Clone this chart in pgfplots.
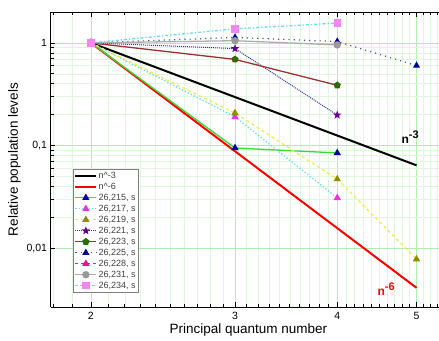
\documentclass[border=0pt]{standalone}
\usepackage{fontspec}
\setmainfont{Liberation Sans}
\usepackage{pgfplots}
\pgfplotsset{compat=1.18}
\usetikzlibrary{plotmarks}
\definecolor{cgreen}{HTML}{33DD33}
\definecolor{ccyan}{HTML}{66DDEE}
\definecolor{cyellow}{HTML}{EEEE44}
\definecolor{colive}{HTML}{8C8C00}
\definecolor{cnavy}{HTML}{333399}
\definecolor{cpurple}{HTML}{660099}
\definecolor{cmaroon}{HTML}{993333}
\definecolor{cdgreen}{HTML}{2E6B00}
\definecolor{cblue}{HTML}{0000A0}
\definecolor{cmag}{HTML}{F030D8}
\definecolor{cpink}{HTML}{EE1199}
\definecolor{cviolet}{HTML}{9933CC}
\definecolor{cgray}{HTML}{999999}
\definecolor{csq}{HTML}{EE88EE}
\definecolor{majgrid}{HTML}{B0EEB0}
\definecolor{mingrid}{HTML}{E0F6E0}
\pgfdeclareplotmark{fstar}{%
  \pgfpathmoveto{\pgfqpointpolar{90}{\pgfplotmarksize}}%
  \pgfpathlineto{\pgfqpointpolar{126}{0.42\pgfplotmarksize}}%
  \pgfpathlineto{\pgfqpointpolar{162}{\pgfplotmarksize}}%
  \pgfpathlineto{\pgfqpointpolar{198}{0.42\pgfplotmarksize}}%
  \pgfpathlineto{\pgfqpointpolar{234}{\pgfplotmarksize}}%
  \pgfpathlineto{\pgfqpointpolar{270}{0.42\pgfplotmarksize}}%
  \pgfpathlineto{\pgfqpointpolar{306}{\pgfplotmarksize}}%
  \pgfpathlineto{\pgfqpointpolar{342}{0.42\pgfplotmarksize}}%
  \pgfpathlineto{\pgfqpointpolar{18}{\pgfplotmarksize}}%
  \pgfpathlineto{\pgfqpointpolar{54}{0.42\pgfplotmarksize}}%
  \pgfpathclose\pgfusepathqfillstroke}
\begin{document}
\begin{tikzpicture}
\begin{axis}[
  scale only axis, width=388pt, height=295pt,
  xmode=log, ymode=log,
  xmin=1.785, xmax=5.32, ymin=0.00266, ymax=2.0,
  axis x line*=box, axis y line*=left,
  xtick={2,3,4,5}, xticklabels={2,3,4,5},
  minor xtick={1.8,1.9,2.1,2.2,2.3,2.4,2.5,2.6,2.7,2.8,2.9,3.1,3.2,3.3,3.4,3.5,3.6,3.7,3.8,3.9,4.1,4.2,4.3,4.4,4.5,4.6,4.7,4.8,4.9,5.1,5.2,5.3},
  ytick={0.01,0.1,1}, yticklabels={{0,01},{0,1},1},
  grid=both,
  major grid style={majgrid, line width=0.6pt},
  minor grid style={mingrid, line width=0.5pt},
  major tick length=5pt, minor tick length=3pt,
  tick style={black, line width=0.6pt},
  axis line style={black, line width=0.9pt},
  tick label style={font=\fontsize{10.5}{12}\selectfont},
  xticklabel style={yshift=-2pt},
  xlabel={Principal quantum number},
  ylabel={Relative population levels},
  label style={font=\fontsize{13.5}{15}\selectfont},
  xlabel style={at={(axis description cs:0.51,0)}, anchor=center, yshift=-22.5pt},
  ylabel style={at={(axis description cs:-0.093,0.5)}, anchor=center},
  legend style={at={(axis description cs:0.057,0.468)}, anchor=north west,
    font=\fontsize{9}{10}\selectfont, draw=gray, inner sep=1.5pt, row sep=0.6pt,
    text=black!75, nodes={inner sep=1.3pt}},
  legend image code/.code={\draw[mark repeat=2,mark phase=2,#1] plot coordinates {(0cm,0cm) (0.37cm,0cm) (0.74cm,0cm)};},
  legend cell align=left,
  clip=false,
  mark size=3pt,
]
\addplot[black, line width=2pt] coordinates {(2,1) (5,0.064)};
\addlegendentry{n\textasciicircum -3}
\addplot[red, line width=2pt] coordinates {(2,1) (5,0.004096)};
\addlegendentry{n\textasciicircum -6}
\addplot[cgreen, line width=1.3pt, mark=triangle*, mark options={solid, fill=cblue, draw=cblue}] coordinates {(2,1) (3,0.0945) (4,0.0845)};
\addlegendentry{26,215, s}
\addplot[ccyan, line width=1.3pt, dotted, mark=triangle*, mark options={solid, fill=cmag, draw=cmag}] coordinates {(2,1) (3,0.19) (4,0.0308)};
\addlegendentry{26,217, s}
\addplot[cyellow, line width=1.3pt, dashed, mark=triangle*, mark options={solid, fill=colive, draw=colive}] coordinates {(2,1) (3,0.207) (4,0.047) (5,0.0078)};
\addlegendentry{26,219, s}
\addplot[cnavy, line width=1pt, densely dotted, mark=fstar, mark options={solid, fill=cpurple, draw=cpurple}] coordinates {(2,1) (3,0.88) (4,0.198)};
\addlegendentry{26,221, s}
\addplot[cmaroon, line width=1.3pt, mark=pentagon*, mark options={solid, fill=cdgreen, draw=cdgreen}] coordinates {(2,1) (3,0.69) (4,0.386)};
\addlegendentry{26,223, s}
\addplot[cnavy!60!gray, line width=1.2pt, dash pattern=on 1.2pt off 4pt, mark=triangle*, mark options={solid, fill=cblue, draw=cblue}] coordinates {(2,1) (3,1.13) (4,1.03) (5,0.60)};
\addlegendentry{26,225, s}
\addplot[cviolet, line width=1.3pt, dashed, mark=triangle*, mark options={solid, fill=cpink, draw=cpink}] coordinates {(2,1)};
\addlegendentry{26,228, s}
\addplot[cgray!80!white, line width=1.3pt, mark=*, mark options={solid, fill=cgray, draw=cgray}] coordinates {(2,1) (3,1.05) (4,0.955)};
\addlegendentry{26,231, s}
\addplot[ccyan, line width=1.3pt, dash dot, mark=square*, mark options={solid, fill=csq, draw=csq}] coordinates {(2,1) (3,1.37) (4,1.56)};
\addlegendentry{26,234, s}
\node[font=\bfseries\fontsize{12}{14}\selectfont, text=black] at (axis cs:4.91,0.121) {n\raisebox{5pt}{\fontsize{11}{12}\selectfont -3}};
\node[font=\bfseries\fontsize{12}{14}\selectfont, text=red] at (axis cs:4.59,0.00398) {n\raisebox{5pt}{\fontsize{11}{12}\selectfont -6}};
\end{axis}
\path ([shift={(-50.5pt,-33pt)}]current axis.south west) rectangle ([shift={(0pt,12pt)}]current axis.north east);
\end{tikzpicture}
\end{document}
